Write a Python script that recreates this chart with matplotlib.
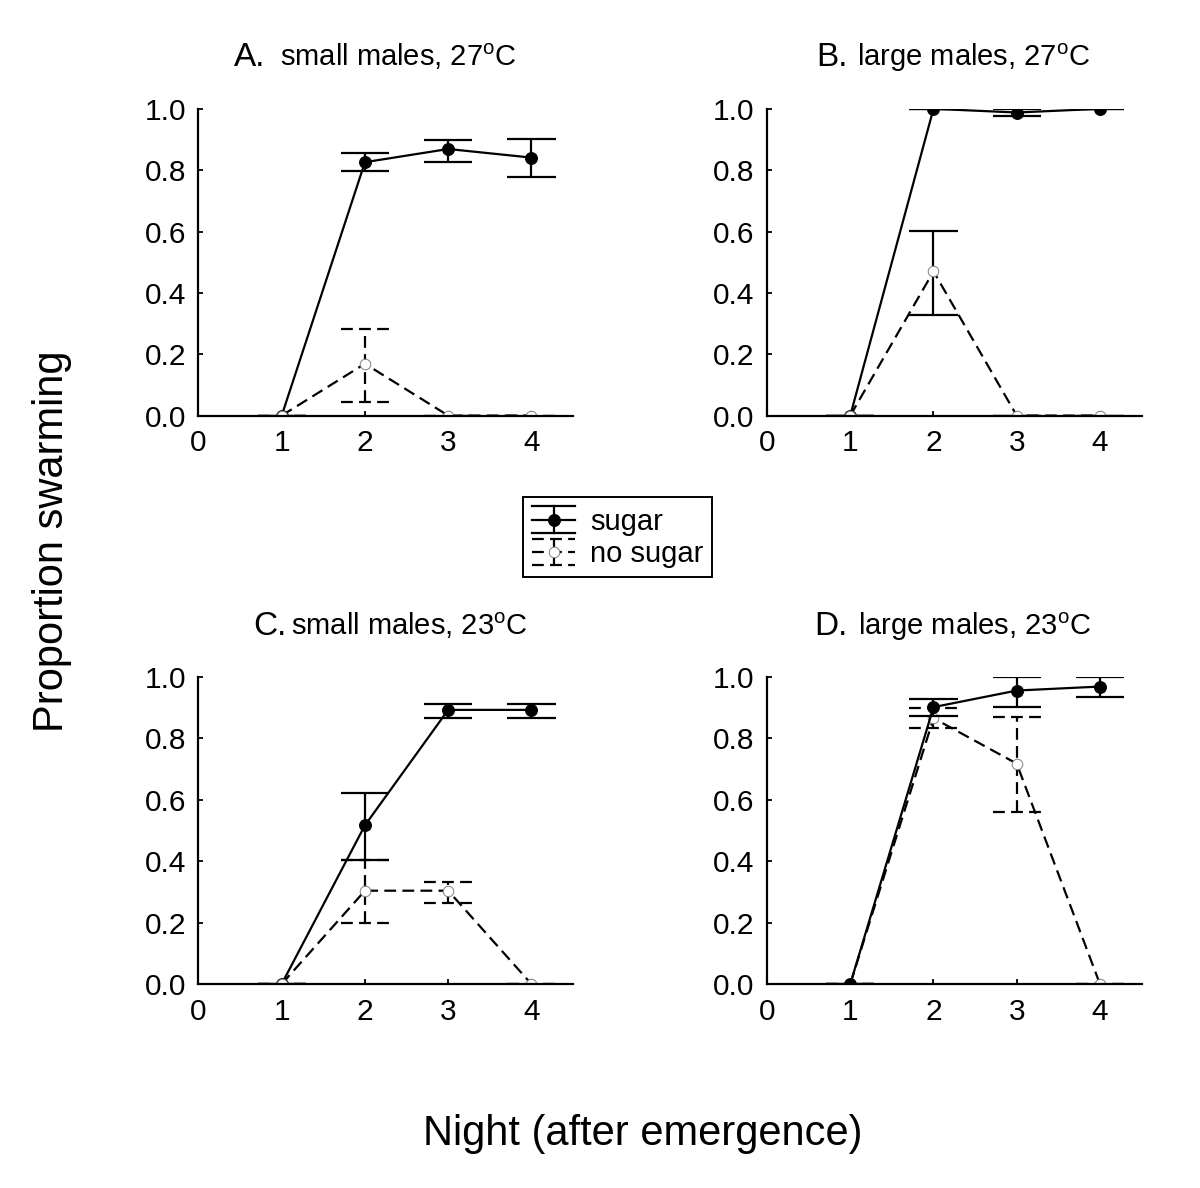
import numpy as np
import matplotlib
matplotlib.use('Agg')
import matplotlib.pyplot as plt
from matplotlib.legend_handler import HandlerBase
from matplotlib.lines import Line2D

plt.rcParams['font.family'] = ['Liberation Sans', 'DejaVu Sans']
plt.rcParams['mathtext.fontset'] = 'custom'
plt.rcParams['mathtext.rm'] = 'Liberation Sans'
plt.rcParams['mathtext.it'] = 'Liberation Sans:italic'
plt.rcParams['lines.scale_dashes'] = False

# ---------------- data ----------------
nights = [1, 2, 3, 4]
x_ticks = [0, 1, 2, 3, 4]
y_ticks = [0.0, 0.2, 0.4, 0.6, 0.8, 1.0]

panel_letters = ['A.', 'B.', 'C.', 'D.']
panel_titles = ['small males, 27$^{\\mathrm{o}}$C', 'large males, 27$^{\\mathrm{o}}$C',
                'small males, 23$^{\\mathrm{o}}$C', 'large males, 23$^{\\mathrm{o}}$C']
series_labels = ['sugar', 'no sugar']

a_sugar = [0.0, 0.826, 0.869, 0.841]
a_sugar_lo = [0.0, 0.797, 0.828, 0.778]
a_sugar_hi = [0.0, 0.857, 0.899, 0.901]
a_nosugar = [0.0, 0.169, 0.0, 0.0]
a_nosugar_lo = [0.0, 0.043, 0.0, 0.0]
a_nosugar_hi = [0.0, 0.283, 0.0, 0.0]

b_sugar = [0.0, 1.0, 0.988, 1.0]
b_sugar_lo = [0.0, 1.0, 0.975, 1.0]
b_sugar_hi = [0.0, 1.0, 0.999, 1.0]
b_nosugar = [0.0, 0.470, 0.0, 0.0]
b_nosugar_lo = [0.0, 0.327, 0.0, 0.0]
b_nosugar_hi = [0.0, 0.603, 0.0, 0.0]

c_sugar = [0.0, 0.517, 0.893, 0.893]
c_sugar_lo = [0.0, 0.404, 0.865, 0.865]
c_sugar_hi = [0.0, 0.621, 0.911, 0.911]
c_nosugar = [0.0, 0.304, 0.304, 0.0]
c_nosugar_lo = [0.0, 0.198, 0.265, 0.0]
c_nosugar_hi = [0.0, 0.404, 0.333, 0.0]

d_sugar = [0.0, 0.902, 0.956, 0.969]
d_sugar_lo = [0.0, 0.872, 0.902, 0.935]
d_sugar_hi = [0.0, 0.928, 1.0, 1.0]
d_nosugar = [0.0, 0.866, 0.718, 0.0]
d_nosugar_lo = [0.0, 0.834, 0.561, 0.0]
d_nosugar_hi = [0.0, 0.899, 0.870, 0.0]

panels = [
    (a_sugar, a_sugar_lo, a_sugar_hi, a_nosugar, a_nosugar_lo, a_nosugar_hi),
    (b_sugar, b_sugar_lo, b_sugar_hi, b_nosugar, b_nosugar_lo, b_nosugar_hi),
    (c_sugar, c_sugar_lo, c_sugar_hi, c_nosugar, c_nosugar_lo, c_nosugar_hi),
    (d_sugar, d_sugar_lo, d_sugar_hi, d_nosugar, d_nosugar_lo, d_nosugar_hi),
]

# ---------------- style ----------------
LW = 1.6
DASH = (0, (8.5, 4.5))
CAPW = 0.29
# error bar style of the "no sugar" series per panel (panel B drawn solid in the original)
nosugar_err_ls = [DASH, '-', DASH, DASH]
sugar_on_top = [False, False, False, True]

axes_rects = [
    (0.1654, 0.6502, 0.3121, 0.2582),
    (0.6392, 0.6502, 0.3121, 0.2582),
    (0.1654, 0.1717, 0.3121, 0.2584),
    (0.6392, 0.1717, 0.3121, 0.2584),
]
letter_x = [0.178, 0.214, 0.236, 0.214]
title_x = [0.219, 0.239, 0.247, 0.242]
title_y = 1.138

filled = dict(marker='o', ms=8.5, mfc='black', mec='black', mew=0.8)
opened = dict(marker='o', ms=7.6, mfc='white', mec='#808080', mew=0.7)


def draw_series(ax, y, lo, hi, ls, err_ls, mstyle, z):
    x = np.array(nights, dtype=float)
    ax.plot(x, y, color='black', lw=LW, ls=ls, zorder=z)
    ax.vlines(x, lo, hi, colors='black', lw=LW, linestyles=err_ls, zorder=z)
    ax.hlines(lo, x - CAPW, x + CAPW, colors='black', lw=LW, linestyles=err_ls, zorder=z)
    ax.hlines(hi, x - CAPW, x + CAPW, colors='black', lw=LW, linestyles=err_ls, zorder=z)
    ax.plot(x, y, ls='none', zorder=z + 0.5, **mstyle)


fig = plt.figure(figsize=(12, 11.88), dpi=100)

for i, rect in enumerate(axes_rects):
    ax = fig.add_axes(rect)
    s, slo, shi, n, nlo, nhi = panels[i]
    zs, zn = (4, 2) if sugar_on_top[i] else (2, 4)
    draw_series(ax, s, slo, shi, '-', '-', filled, zs)
    draw_series(ax, n, nlo, nhi, DASH, nosugar_err_ls[i], opened, zn)
    ax.set_xlim(0, 4.5)
    ax.set_ylim(0, 1.0)
    ax.set_xticks(x_ticks)
    ax.set_xticklabels([str(t) for t in x_ticks])
    ax.set_yticks(y_ticks)
    ax.set_yticklabels(['%.1f' % t for t in y_ticks])
    for side in ('top', 'right'):
        ax.spines[side].set_visible(False)
    for side in ('left', 'bottom'):
        ax.spines[side].set_linewidth(LW)
        ax.spines[side].set_zorder(6)
    ax.tick_params(direction='in', length=3.5, width=1.3, labelsize=21.5)
    ax.tick_params(axis='y', pad=9)
    ax.tick_params(axis='x', pad=10)
    ax.text(letter_x[i], title_y, panel_letters[i], transform=ax.transAxes,
            ha='right', va='baseline', fontsize=24)
    ax.text(title_x[i], title_y, panel_titles[i], transform=ax.transAxes,
            ha='left', va='baseline', fontsize=21)

fig.text(0.0433, 0.544, 'Proportion swarming', rotation=90, ha='center', va='center', fontsize=30)
fig.text(0.536, 0.0455, 'Night (after emergence)', ha='center', va='center', fontsize=30)


class ErrHandler(HandlerBase):
    def __init__(self, ls, mstyle):
        super().__init__()
        self.ls = ls
        self.mstyle = mstyle

    def create_artists(self, legend, orig_handle, xdescent, ydescent, width, height,
                       fontsize, trans):
        x0 = -xdescent
        x1 = width - xdescent
        cx = 0.5 * (x0 + x1)
        cy = 0.5 * height - ydescent
        hh = 0.46 * fontsize
        arts = []
        for yy in (cy - hh, cy, cy + hh):
            arts.append(Line2D([x0, x1], [yy, yy], color='black', lw=LW, ls=self.ls))
        arts.append(Line2D([cx, cx], [cy - hh, cy + hh], color='black', lw=LW, ls=self.ls))
        arts.append(Line2D([cx], [cy], ls='none', **self.mstyle))
        for a in arts:
            a.set_transform(trans)
        return arts


h1 = Line2D([], [])
h2 = Line2D([], [])
leg = fig.legend([h1, h2], series_labels, loc='center', bbox_to_anchor=(0.5146, 0.548),
                 handler_map={h1: ErrHandler('-', filled), h2: ErrHandler(DASH, opened)},
                 fontsize=21, frameon=True, fancybox=False, framealpha=1, edgecolor='black',
                 borderpad=0.3, labelspacing=0.1, handlelength=1.5, handleheight=1.05,
                 handletextpad=0.5, borderaxespad=0)
leg.get_frame().set_linewidth(1.4)

fig.savefig('out.png', dpi=100, facecolor='white')
